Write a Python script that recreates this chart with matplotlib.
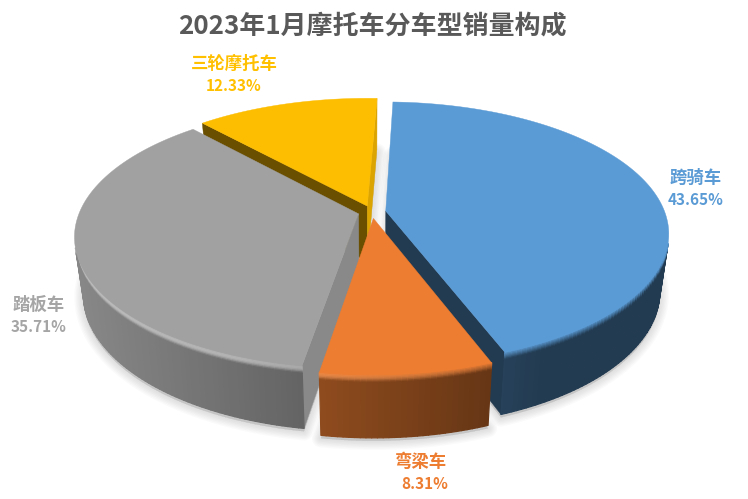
import numpy as np
import matplotlib
matplotlib.use('Agg')
import matplotlib.pyplot as plt
from matplotlib.collections import PolyCollection
from matplotlib.colors import to_rgb

plt.rcParams['font.family'] = ['Noto Sans CJK SC', 'DejaVu Sans']

title = '2023年1月摩托车分车型销量构成'
categories = ['跨骑车', '弯梁车', '踏板车', '三轮摩托车']
shares = [43.65, 8.31, 35.71, 12.33]
colors = ['#5b9bd5', '#ed7d31', '#a1a1a1', '#fdbd00']
label_colors = ['#5b9bd5', '#ed7d31', '#a5a5a5', '#ffc000']

# shade of the two cut faces of each slice (first edge, last edge)
face_shades = [(0.38, 0.38), (0.6, 0.6), (0.85, 0.6), (0.42, 0.87)]
# painter order, back to front
draw_order = [3, 0, 2, 1]
name_pos = [(696, 178), (421, 462), (39, 305), (234, 64)]
share_pos = [(696, 200), (425, 484), (39, 327), (234, 86)]

# projection of the tilted pie, in pixels
CX, CY = 372, 212
A, B = 279, 127.7
K = 0.168
DEPTH = 56
SHRINK = 0.03
EXPLODE = 0.05
FIRST_ANGLE = 2.2
BEVEL = 0.12


def project(x, y, z):
    s = 1 / (1 + K * y)
    q = 1 - SHRINK * z
    return CX + A * x * s * q, CY - B * y * s * q + DEPTH * s * z


def side_shade(px):
    return np.clip(0.85 - (px - 72) * 0.001, 0.38, 0.88)


def area(pts):
    # signed area on screen, negative when the quad looks at the viewer
    xs, ys = np.array(pts).T
    return np.sum(xs * np.roll(ys, -1) - np.roll(xs, -1) * ys)


def draw_slice(ax, a0, a1, color, shades):
    base = np.array(to_rgb(color))
    mid = np.radians((a0 + a1) / 2)
    ox, oy = EXPLODE * np.sin(mid), EXPLODE * np.cos(mid)
    thetas = np.radians(np.arange(a0, a1 + 1, 1.0))
    thetas[-1] = np.radians(a1)
    rx, ry = ox + np.sin(thetas), oy + np.cos(thetas)

    # cut faces, the hidden one is skipped
    for th, shade, sign in zip((thetas[0], thetas[-1]), shades, (-1, 1)):
        x, y = ox + np.sin(th), oy + np.cos(th)
        pts = [project(ox, oy, 0), project(x, y, 0), project(x, y, 1), project(ox, oy, 1)]
        if area(pts) * sign > 0:
            ax.fill(*zip(*pts), color=base * shade, lw=0.3, zorder=3)

    # outer wall, the first bands make the rounded edge
    levels = [0, 0.02, 0.04, 0.06, 0.08, 0.10, BEVEL, 1]
    polys, cols = [], []
    for i in range(len(thetas) - 1):
        whole = [project(rx[i], ry[i], 0), project(rx[i + 1], ry[i + 1], 0),
                 project(rx[i + 1], ry[i + 1], 1), project(rx[i], ry[i], 1)]
        if area(whole) >= 0:
            continue
        for z0, z1 in zip(levels[:-1], levels[1:]):
            p = [project(rx[i], ry[i], z0), project(rx[i + 1], ry[i + 1], z0),
                 project(rx[i + 1], ry[i + 1], z1), project(rx[i], ry[i], z1)]
            f = side_shade(np.mean([q[0] for q in p]))
            c = base * f
            if z0 < BEVEL:
                t = (z0 + z1) / 2 / BEVEL
                h = np.clip((f - 0.38) / 0.3, 0, 1)
                c = base * (1 - t) + c * t + h * np.sin(np.pi * t) * 0.16
            polys.append(p)
            cols.append(np.clip(c, 0, 1))
    ax.add_collection(PolyCollection(polys, facecolors=cols, edgecolors=cols, linewidths=0.9, zorder=3))

    # top
    top = [project(ox, oy, 0)] + [project(a, b, 0) for a, b in zip(rx, ry)]
    ax.fill(*zip(*top), color=base, lw=0.3, zorder=3)


def draw_shadow(ax, a0, a1):
    mid = np.radians((a0 + a1) / 2)
    ox, oy = EXPLODE * np.sin(mid), EXPLODE * np.cos(mid)
    thetas = np.radians(np.linspace(a0, a1, 100))
    pts = [project(ox, oy, 1)] + [project(ox + np.sin(t), oy + np.cos(t), 1) for t in thetas]
    xs, ys = zip(*pts)
    for lw in np.arange(1, 15, 2):
        ax.fill(np.array(xs), np.array(ys) + 3, facecolor='#404040', edgecolor='#404040',
                lw=lw, alpha=0.022, zorder=1, joinstyle='round')


fig = plt.figure(figsize=(7.48, 4.99), dpi=100)
ax = fig.add_axes([0, 0, 1, 1])
ax.set_xlim(0, 748)
ax.set_ylim(499, 0)
ax.axis('off')

angles = FIRST_ANGLE + np.concatenate(([0], np.cumsum(shares))) * 3.6 / sum(shares) * 100
for i in draw_order:
    draw_shadow(ax, angles[i], angles[i + 1])
for i in draw_order:
    draw_slice(ax, angles[i], angles[i + 1], colors[i], face_shades[i])

for name, share, color, np_xy, sp_xy in zip(categories, shares, label_colors, name_pos, share_pos):
    ax.text(np_xy[0], np_xy[1], name, color=color, fontsize=12.5, fontweight='bold',
            ha='center', va='center', zorder=5)
    ax.text(sp_xy[0], sp_xy[1], '{:.2f}%'.format(share), color=color, fontsize=11,
            fontweight='bold', ha='center', va='center', zorder=5)

ax.text(372, 26, title, color='#595959', fontsize=18.7, fontweight='bold',
        ha='center', va='center', zorder=5)

fig.savefig('out.png', dpi=100)
